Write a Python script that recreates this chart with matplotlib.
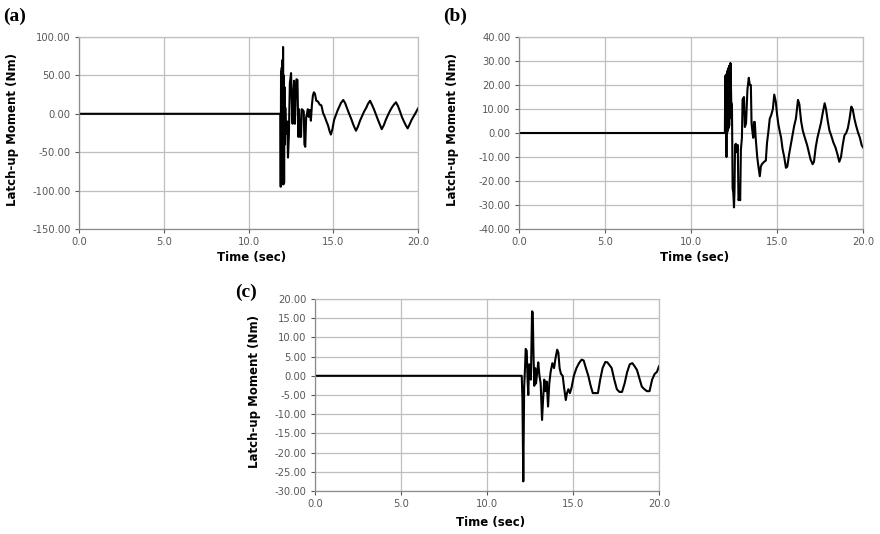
import matplotlib.pyplot as plt
from matplotlib.ticker import FormatStrFormatter, MultipleLocator

# Latch-up moment time histories, three cases (a), (b), (c)
t_a = [0.0, 11.88, 11.90, 11.92, 11.94, 11.96, 11.98, 12.00, 12.02, 12.04, 12.06,
       12.08, 12.10, 12.12, 12.14, 12.17,
       12.22, 12.28, 12.33, 12.38, 12.44, 12.51, 12.55, 12.60, 12.64, 12.69, 12.74,
       12.78, 12.83, 12.89, 12.94, 12.98, 13.04, 13.10, 13.14, 13.20, 13.26, 13.30,
       13.35, 13.40, 13.45, 13.50, 13.55, 13.62, 13.68, 13.74, 13.80, 13.86, 13.92,
       14.00, 14.10, 14.20, 14.30, 14.40, 14.50, 14.60, 14.69, 14.79, 14.86, 14.95,
       15.05, 15.15, 15.25, 15.35, 15.45, 15.59, 15.70, 15.80, 15.92, 16.05, 16.18,
       16.34, 16.45, 16.58, 16.70, 16.82, 16.95, 17.05, 17.17, 17.28, 17.40, 17.52,
       17.64, 17.75, 17.86, 17.98, 18.10, 18.22, 18.35, 18.48, 18.58, 18.70, 18.82,
       18.94, 19.05, 19.17, 19.28, 19.39, 19.50, 19.62, 19.75, 19.88, 20.0]
m_a = [0.0, 0.0, -95, 55, -92, 60, -70, 70, -85, 87, -92,
       50, -90, 35, -40, 8,
       -26, -10, -57, -30, 40, 53, 22, -13, 22, 43, -13,
       20, 45, 44, -30, 6, -30, -30, 6, 5, 3, -40,
       -43, -5, 0, 6, -4, 5, -9, 11, 24, 28, 26,
       17, 16, 12, 11, 1, -4, -10, -15, -23, -27, -20,
       -8, -2, 4, 9, 14, 18, 14, 8, 1, -6, -14,
       -22, -17, -9, -3, 3, 8, 13, 17, 12, 6, -1,
       -8, -14, -20, -15, -8, -2, 4, 9, 12, 15, 10,
       3, -4, -10, -15, -19, -14, -8, -3, 2, 7]

t_b = [0.0, 11.97, 11.99, 12.00, 12.01, 12.02, 12.03, 12.04, 12.05, 12.06, 12.07,
       12.08, 12.09, 12.10, 12.11, 12.12, 12.13, 12.14, 12.15, 12.16, 12.17, 12.18,
       12.19, 12.20, 12.21, 12.22, 12.23, 12.24, 12.25, 12.26, 12.27, 12.28, 12.29,
       12.30, 12.34, 12.38, 12.42, 12.46, 12.50,
       12.53, 12.56, 12.61, 12.66, 12.72, 12.76, 12.82, 12.86, 12.90, 12.96, 13.00,
       13.08, 13.13, 13.20, 13.28, 13.36, 13.42, 13.48, 13.52, 13.58, 13.62, 13.66,
       13.71, 13.76, 13.85, 13.92, 14.00, 14.06, 14.12, 14.25, 14.35, 14.42, 14.49,
       14.58, 14.66, 14.76, 14.84, 14.93, 15.00, 15.07, 15.15, 15.24, 15.32, 15.42,
       15.52, 15.60, 15.70, 15.80, 15.90, 16.00, 16.10, 16.22, 16.30, 16.40, 16.50,
       16.62, 16.75, 16.85, 16.95, 17.07, 17.15, 17.25, 17.35, 17.45, 17.55, 17.65,
       17.77, 17.85, 17.95, 18.05, 18.15, 18.28, 18.40, 18.52, 18.62, 18.72, 18.82,
       18.92, 19.02, 19.12, 19.22, 19.32, 19.40, 19.50, 19.60, 19.72, 19.82, 19.92, 20.0]
m_b = [0.0, 0.0, 23, 2, 24, 0, 23, 1, 24, -10, 24,
       2, 25, 0, 25, 3, 26, 1, 26, 4, 27, 2,
       27, 5, 27, 3, 28, 6, 28, 8, 29, 10, 28,
       29, 13, 12, -23, -25, -31,
       -24, -5, -4.5, -8, -5, -28, -27, -28, -7, -2, 14,
       15, 2.5, 4, 18, 23, 20, 20, 4, 0, -2, 4.6,
       4.6, -2, -10, -14, -18, -14, -13, -12, -11.5, -4, 0,
       6, 7.4, 10, 16, 13, 8, 4, 1, -2, -6.5, -10,
       -14.5, -14, -9, -5, -1, 3, 6, 13.8, 12, 5, 1,
       -2, -5, -8, -11, -13, -12, -6, -2, 1, 4, 8,
       12.4, 10, 5, 1, -1, -4, -6, -9, -12, -10, -5,
       -1, 0, 2, 6, 11, 10, 6, 3, 0, -2, -5, -6]

t_c = [0.0, 12.02, 12.06, 12.11, 12.16, 12.21, 12.25, 12.31, 12.36, 12.40, 12.45,
       12.50, 12.55, 12.62, 12.66, 12.71, 12.75, 12.80, 12.85, 12.92, 12.98, 13.05,
       13.12, 13.20, 13.25, 13.33, 13.40, 13.47, 13.55, 13.62, 13.70, 13.80, 13.90,
       13.98, 14.08, 14.15, 14.22, 14.30, 14.40, 14.48, 14.58, 14.65, 14.73, 14.82,
       14.92, 15.05, 15.20, 15.35, 15.50, 15.62, 15.75, 15.89, 16.02, 16.15, 16.30,
       16.45, 16.58, 16.72, 16.88, 17.00, 17.12, 17.25, 17.40, 17.55, 17.70, 17.85,
       18.00, 18.15, 18.30, 18.45, 18.58, 18.72, 18.85, 19.00, 19.15, 19.30, 19.45,
       19.60, 19.75, 19.88, 20.0]
m_c = [0.0, 0.0, -6, -27.5, -3, 2, 7, 6.5, -1, -5, 3,
       1, -1, 16.8, 16.5, 4, -2.6, 2, -2, 1, 3.5, 0,
       -2, -11.5, -7, -1, -4, -1.5, -8, -2, 1, 3.3, 2,
       4.5, 6.8, 6, 2, 0.5, 0, -3, -6.3, -4.5, -3.5, -4.5,
       -3, 0, 2, 3.3, 4.2, 4, 2, 0, -2.5, -4.5, -4.5,
       -4.5, -1, 2, 3.6, 3.5, 2.8, 2, -1, -3.5, -4.2, -4.2,
       -2, 1, 3, 3.3, 2.5, 1.5, -0.5, -2.8, -3.5, -4, -4,
       -1, 0.5, 1, 2.5]

tick_color = '#595959'
grid_color = '#bfbfbf'


def style_axes(ax, ylim, ystep, ylabel_x, xlabel_y):
    ax.set_xlim(0, 20)
    ax.set_ylim(*ylim)
    ax.xaxis.set_major_locator(MultipleLocator(5))
    ax.yaxis.set_major_locator(MultipleLocator(ystep))
    ax.xaxis.set_major_formatter(FormatStrFormatter('%.1f'))
    ax.yaxis.set_major_formatter(FormatStrFormatter('%.2f'))
    ax.grid(True, color=grid_color, linewidth=0.9)
    ax.set_axisbelow(True)
    for side in ['top', 'right']:
        ax.spines[side].set_color(grid_color)
        ax.spines[side].set_linewidth(0.9)
    for side in ['left', 'bottom']:
        ax.spines[side].set_color('#8c8c8c')
        ax.spines[side].set_linewidth(0.9)
    ax.tick_params(labelsize=7.2, colors=tick_color, length=3, width=0.8, pad=3)
    ax.set_xlabel('Time (sec)', fontsize=8.5, fontweight='bold')
    ax.set_ylabel('Latch-up Moment (Nm)', fontsize=8.5, fontweight='bold')
    ax.yaxis.set_label_coords(ylabel_x, 0.52)
    ax.xaxis.set_label_coords(0.51, xlabel_y)


fig = plt.figure(figsize=(8.8, 5.34), dpi=100)

ax_a = fig.add_axes([79 / 880, 1 - 229 / 534, 339 / 880, 192 / 534])
ax_a.plot(t_a, m_a, color='black', linewidth=1.5)
style_axes(ax_a, (-150, 100), 50, -0.176, -0.115)

ax_b = fig.add_axes([519 / 880, 1 - 229 / 534, 344 / 880, 192 / 534])
ax_b.plot(t_b, m_b, color='black', linewidth=1.5)
style_axes(ax_b, (-40, 40), 10, -0.175, -0.115)

ax_c = fig.add_axes([315 / 880, 1 - 491 / 534, 344 / 880, 192 / 534])
ax_c.plot(t_c, m_c, color='black', linewidth=1.5)
style_axes(ax_c, (-30, 20), 5, -0.157, -0.128)

label_font = dict(family=['Liberation Serif', 'DejaVu Serif'], fontsize=14, fontweight='bold')
fig.text(3 / 880, 1 - 16 / 534, '(a)', va='center', ha='left', **label_font)
fig.text(443 / 880, 1 - 16 / 534, '(b)', va='center', ha='left', **label_font)
fig.text(235 / 880, 1 - 292 / 534, '(c)', va='center', ha='left', **label_font)

fig.savefig('out.png', dpi=100)
